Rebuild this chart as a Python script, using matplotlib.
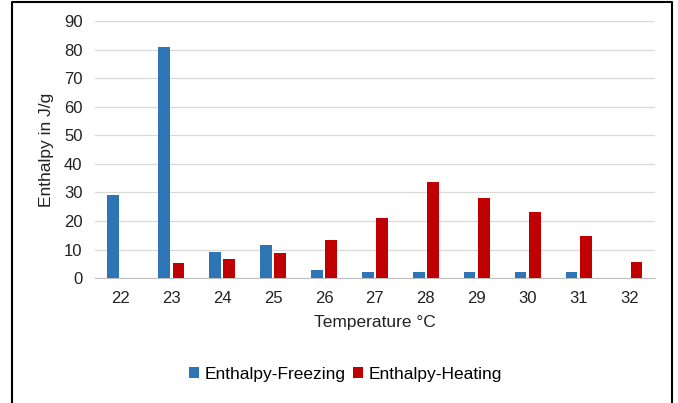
import matplotlib.pyplot as plt
import numpy as np
from matplotlib.lines import Line2D

plt.rcParams['font.family'] = ['Liberation Sans', 'DejaVu Sans']

temperatures = ['22', '23', '24', '25', '26', '27', '28', '29', '30', '31', '32']
freezing = [29, 81, 9.3, 11.6, 2.7, 2.2, 2.2, 2.2, 2.2, 2.2, 0]
heating = [0, 5.2, 6.7, 8.7, 13.2, 21, 33.5, 28, 23, 14.7, 5.7]

fig = plt.figure(figsize=(6.78, 4.03), dpi=100)
ax = fig.add_axes([0.14, 0.31, 0.826, 0.638])

x = np.arange(len(temperatures))
w = 0.23
ax.bar(x - 0.14, freezing, w, color='#2e75b6', label='Enthalpy-Freezing', zorder=3)
ax.bar(x + 0.14, heating, w, color='#c00000', label='Enthalpy-Heating', zorder=3)

ax.set_xlim(-0.5, len(temperatures) - 0.5)
ax.set_ylim(0, 90)
ax.set_yticks(range(0, 91, 10))
ax.set_xticks(x)
ax.set_xticklabels(temperatures)
ax.yaxis.grid(True, color='#d9d9d9', linewidth=0.9, zorder=0)
ax.tick_params(axis='both', length=0, labelsize=12, colors='#222222')
ax.tick_params(axis='y', pad=9)
ax.tick_params(axis='x', pad=9)
for side in ['left', 'right', 'top']:
    ax.spines[side].set_visible(False)
ax.spines['bottom'].set_color('#bfbfbf')

ax.set_ylabel('Enthalpy in J/g', fontsize=12.5, color='#222222', labelpad=7)
ax.set_xlabel('Temperature °C', fontsize=12.5, color='#222222', labelpad=7)

ax.legend(loc='upper center', bbox_to_anchor=(0.447, -0.285), ncol=2, frameon=False,
          fontsize=12.5, handlelength=0.6, handleheight=0.6, handletextpad=0.3,
          columnspacing=0.4)

# outer frame: left, top and right edges only
fx0, fx1, fy1 = 12 / 678, 672 / 678, 1 - 1.5 / 403
fig.add_artist(Line2D([fx0, fx0, fx1, fx1], [0, fy1, fy1, 0], transform=fig.transFigure,
                      color='black', linewidth=1.5))

fig.savefig('out.png', dpi=100)
